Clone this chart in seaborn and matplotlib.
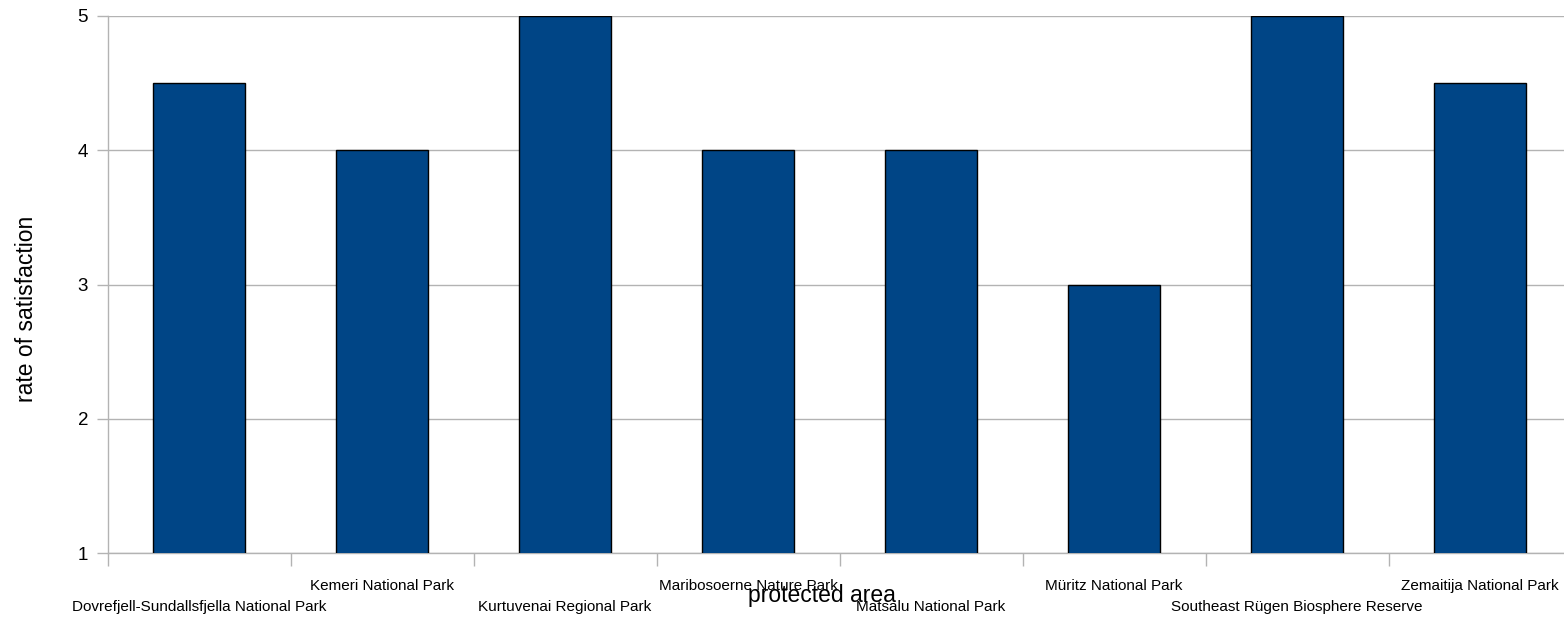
import matplotlib
matplotlib.use("Agg")
import matplotlib.pyplot as plt
import seaborn as sns
import pandas as pd

# Visitor satisfaction ratings per protected area
areas = [
    "Dovrefjell-Sundallsfjella National Park",
    "Kemeri National Park",
    "Kurtuvenai Regional Park",
    "Maribosoerne Nature Park",
    "Matsalu National Park",
    "Müritz National Park",
    "Southeast Rügen Biosphere Reserve",
    "Zemaitija National Park",
]
satisfaction = [4.5, 4, 5, 4, 4, 3, 5, 4.5]
y_ticks = [1, 2, 3, 4, 5]

sns.set_style("white")
plt.rcParams["font.family"] = ["Liberation Sans", "DejaVu Sans"]

df = pd.DataFrame({"area": areas, "satisfaction": satisfaction})

W, H = 1564, 618
fig = plt.figure(figsize=(W / 100, H / 100), dpi=100)
left, right, top, bottom = 107.5, 1571.5, 16, 553
ax = fig.add_axes([left / W, 1 - bottom / H, (right - left) / W, (bottom - top) / H])

bar_color = "#004586"
grid_color = "#b3b3b3"

sns.barplot(data=df, x="area", y="satisfaction", color=bar_color, width=0.5,
            edgecolor="black", linewidth=1, saturation=1, ax=ax, zorder=3)

ax.set_ylim(1, 5)
ax.set_xlim(-0.5, len(areas) - 0.5)
ax.set_yticks(y_ticks)
ax.set_yticklabels([str(v) for v in y_ticks])
ax.yaxis.grid(True, color=grid_color, linewidth=1, zorder=0)
ax.set_axisbelow(True)

for side in ("top", "right"):
    ax.spines[side].set_visible(False)
for side in ("left", "bottom"):
    ax.spines[side].set_color(grid_color)
    ax.spines[side].set_linewidth(1)

ax.tick_params(axis="y", which="major", length=8, width=1, color=grid_color, pad=6,
               left=True, labelcolor="black", labelsize=13.5)

# category boundaries carry the tick marks; labels sit on the category centres
ax.set_xticks([i - 0.5 for i in range(len(areas) + 1)], minor=True)
ax.tick_params(axis="x", which="minor", length=9.5, width=1, color=grid_color, bottom=True)
ax.tick_params(axis="x", which="major", length=0, labelsize=11, labelcolor="black")
ax.set_xticks(range(len(areas)))
ax.set_xticklabels(areas)
for i, tick in enumerate(ax.xaxis.get_major_ticks()):
    tick.set_pad(19 if i % 2 == 1 else 34)

ax.set_xlabel("protected area", fontsize=16.5, color="black")
ax.xaxis.label.set(va="top", ha="center")
ax.xaxis.set_label_coords(0.488, -0.058)

ax.set_ylabel("rate of satisfaction", fontsize=16.5, color="black")
ax.yaxis.label.set(va="center", ha="center")
ax.yaxis.set_label_coords(-0.0553, 0.454)

fig.savefig("out.png", dpi=100)
